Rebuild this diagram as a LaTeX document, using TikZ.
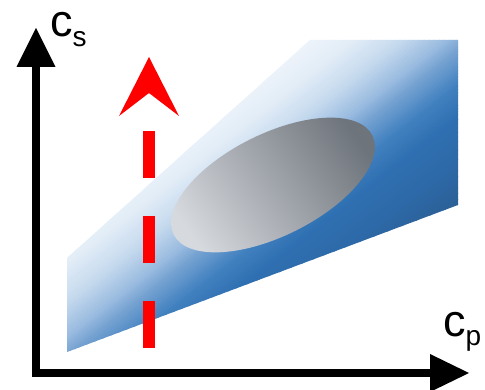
\documentclass[tikz,border=0pt]{standalone}
\usepackage{fontspec}
\setmainfont{Liberation Sans}
\usetikzlibrary{arrows.meta}
\definecolor{b0}{HTML}{F0F5FB}
\definecolor{b1}{HTML}{E3EDF7}
\definecolor{b2}{HTML}{C6DAEE}
\definecolor{b3}{HTML}{96B9DF}
\definecolor{b4}{HTML}{72A0D0}
\definecolor{b5}{HTML}{4281C0}
\definecolor{b6}{HTML}{2F70B2}
\definecolor{b7}{HTML}{2D69A8}
\definecolor{b8}{HTML}{2A5D90}
\definecolor{greydark}{HTML}{6E747B}
\definecolor{greymid}{HTML}{A3A9B0}
\definecolor{greylight}{HTML}{D6D9DE}
\begin{document}
\begin{tikzpicture}[x=1pt,y=1pt,
  axisline/.style={line width=8pt,{Triangle[length=39pt,width=39pt,line width=0pt]}-{Triangle[length=39pt,width=38pt,line width=0pt]}},
  redarrow/.style={red,line width=12pt,dash pattern=on 47pt off 38pt,-{Stealth[length=59pt,width=60pt,inset=23pt,line width=0pt]}},
  lbl/.style={anchor=base west,inner sep=0pt,font=\fontsize{45}{45}\selectfont}]
\useasboundingbox (0,0) rectangle (485,390);
% plane
\begin{scope}
\clip (67,38) -- (67,132) -- (310,350) -- (458,350) -- (458,185) -- cycle;
\begin{scope}[rotate=-52]
\foreach \ta/\tb/\ca/\cb in {-95/-60/b0/b1,-60/-30/b1/b2,-30/0/b2/b3,0/15/b3/b4,15/40/b4/b5,40/65/b5/b6,65/100/b6/b7,100/145/b7/b8}{
  \foreach \k in {0,...,9}{
    \pgfmathsetmacro\tpos{\ta+(\tb-\ta)*\k/10}
    \pgfmathsetmacro\twid{(\tb-\ta)/10+0.6}
    \pgfmathtruncatemacro\pp{100-10*\k}
    \fill[\ca!\pp!\cb] (\tpos,0) rectangle ++(\twid,650);
  }}
\end{scope}
\end{scope}
% region
\shade[rotate around={26.5:(273,205)},top color=greydark,middle color=greymid,bottom color=greylight,shading angle=-55] (273,205) ellipse (111 and 51);
% axes
\coordinate (ytip) at (36,362);\coordinate (xtip) at (469,17);
\draw[axisline] (ytip) |- (xtip);
\node[lbl] (cs) at (50,353){c\raisebox{-10pt}{\fontsize{28}{28}\selectfont s}};
\node[lbl] (cp) at (443,53){c\raisebox{-9pt}{\fontsize{28}{28}\selectfont p}};
% direction
\coordinate (rbot) at (149,42);\coordinate (rtip) at (149,333);
\draw[redarrow] (rbot) -- (rtip);
\end{tikzpicture}
\end{document}
